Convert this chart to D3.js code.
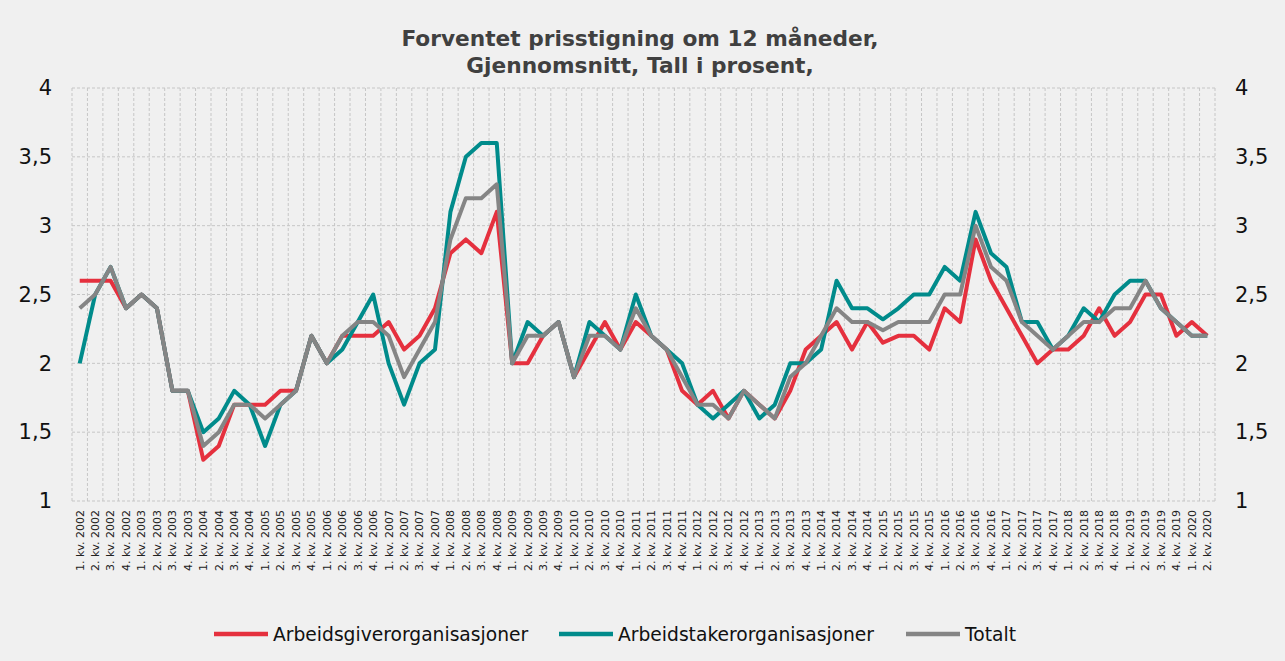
<!DOCTYPE html>
<html>
<head>
<meta charset="utf-8">
<script src="https://cdn.jsdelivr.net/npm/d3@7"></script>
<style>
  body { margin: 0; background: #f0f0f0; }
  svg { display: block; }
</style>
</head>
<body>
<div id="chart"></div>
<script>
var years = d3.range(2002, 2021);
var quarters = [];
years.forEach(function(y) {
  [1, 2, 3, 4].forEach(function(q) {
    if (y < 2020 || q <= 2) quarters.push(q + ". kv. " + y);
  });
});

var arbeidsgiver = [2.6, 2.6, 2.6, 2.4, 2.5, 2.4, 1.8, 1.8, 1.3, 1.4, 1.7, 1.7, 1.7, 1.8, 1.8, 2.2, 2.0, 2.2, 2.2, 2.2,
  2.3, 2.1, 2.2, 2.4, 2.8, 2.9, 2.8, 3.1, 2.0, 2.0, 2.2, 2.3, 1.9, 2.1, 2.3, 2.1, 2.3, 2.2, 2.1, 1.8,
  1.7, 1.8, 1.6, 1.8, 1.7, 1.6, 1.8, 2.1, 2.2, 2.3, 2.1, 2.3, 2.15, 2.2, 2.2, 2.1, 2.4, 2.3, 2.9, 2.6,
  2.4, 2.2, 2.0, 2.1, 2.1, 2.2, 2.4, 2.2, 2.3, 2.5, 2.5, 2.2, 2.3, 2.2];

var arbeidstaker = [2.0, 2.5, 2.7, 2.4, 2.5, 2.4, 1.8, 1.8, 1.5, 1.6, 1.8, 1.7, 1.4, 1.7, 1.8, 2.2, 2.0, 2.1, 2.3, 2.5,
  2.0, 1.7, 2.0, 2.1, 3.1, 3.5, 3.6, 3.6, 2.0, 2.3, 2.2, 2.3, 1.9, 2.3, 2.2, 2.1, 2.5, 2.2, 2.1, 2.0,
  1.7, 1.6, 1.7, 1.8, 1.6, 1.7, 2.0, 2.0, 2.1, 2.6, 2.4, 2.4, 2.32, 2.4, 2.5, 2.5, 2.7, 2.6, 3.1, 2.8,
  2.7, 2.3, 2.3, 2.1, 2.2, 2.4, 2.3, 2.5, 2.6, 2.6, 2.4, 2.3, 2.2, 2.2];

var totalt = [2.4, 2.5, 2.7, 2.4, 2.5, 2.4, 1.8, 1.8, 1.4, 1.5, 1.7, 1.7, 1.6, 1.7, 1.8, 2.2, 2.0, 2.2, 2.3, 2.3,
  2.2, 1.9, 2.1, 2.3, 2.9, 3.2, 3.2, 3.3, 2.0, 2.2, 2.2, 2.3, 1.9, 2.2, 2.2, 2.1, 2.4, 2.2, 2.1, 1.9,
  1.7, 1.7, 1.6, 1.8, 1.7, 1.6, 1.9, 2.0, 2.2, 2.4, 2.3, 2.3, 2.24, 2.3, 2.3, 2.3, 2.5, 2.5, 3.0, 2.7,
  2.6, 2.3, 2.2, 2.1, 2.2, 2.3, 2.3, 2.4, 2.4, 2.6, 2.4, 2.3, 2.2, 2.2];

var yTicks = [1, 1.5, 2, 2.5, 3, 3.5, 4];
var titleLines = ["Forventet prisstigning om 12 måneder,", "Gjennomsnitt, Tall i prosent,"];

var series = [
  {name: "Arbeidsgiverorganisasjoner", values: arbeidsgiver, color: "#e5303e"},
  {name: "Arbeidstakerorganisasjoner", values: arbeidstaker, color: "#008b8b"},
  {name: "Totalt", values: totalt, color: "#858585"}
];

var W = 1285, H = 661;
var margin = {left: 72, right: 1215, top: 88, bottom: 501};

var svg = d3.select("#chart").append("svg")
    .attr("width", W)
    .attr("height", H);

svg.append("rect").attr("width", W).attr("height", H).attr("fill", "#f0f0f0");

var x = d3.scaleBand().domain(quarters).range([margin.left, margin.right]).padding(0),
    y = d3.scaleLinear().domain([1, 4]).range([margin.bottom, margin.top]);

var fmt = function(d) { return String(d).replace(".", ","); };

// grid
var grid = svg.append("g").attr("class", "grid");
grid.selectAll(".hgrid")
  .data(yTicks)
  .enter().append("line")
    .attr("x1", margin.left).attr("x2", margin.right)
    .attr("y1", function(d) { return y(d); })
    .attr("y2", function(d) { return y(d); })
    .attr("stroke", "#c6c6c6")
    .attr("stroke-dasharray", "3,2");

var vx = quarters.map(function(q) { return x(q); }).concat([margin.right]);
grid.selectAll(".vgrid")
  .data(vx)
  .enter().append("line")
    .attr("x1", function(d) { return d; }).attr("x2", function(d) { return d; })
    .attr("y1", margin.top).attr("y2", margin.bottom)
    .attr("stroke", "#c6c6c6")
    .attr("stroke-dasharray", "3,2");

// y axes (both sides)
var yl = svg.append("g")
  .attr("transform", "translate(" + (margin.left - 20) + ",0)")
  .call(d3.axisLeft(y).tickValues(yTicks).tickFormat(fmt).tickSize(0).tickPadding(0));
var yr = svg.append("g")
  .attr("transform", "translate(" + (margin.right + 20) + ",0)")
  .call(d3.axisRight(y).tickValues(yTicks).tickFormat(fmt).tickSize(0).tickPadding(0));
[yl, yr].forEach(function(a) {
  a.select(".domain").remove();
  a.selectAll("text")
    .attr("font-family", "'DejaVu Sans', Verdana, sans-serif")
    .attr("font-size", 21)
    .attr("fill", "#111");
});

// x axis
var xa = svg.append("g")
  .attr("transform", "translate(0," + margin.bottom + ")")
  .call(d3.axisBottom(x).tickSize(0).tickPadding(0));
xa.select(".domain").remove();
xa.selectAll("text")
  .attr("font-family", "'DejaVu Sans', Verdana, sans-serif")
  .attr("font-size", 11)
  .attr("fill", "#222")
  .style("text-anchor", "end")
  .attr("transform", "rotate(-90)")
  .attr("x", -9)
  .attr("y", 0)
  .attr("dy", "0.35em");

// lines
var line = d3.line()
  .x(function(d, i) { return x(quarters[i]) + x.bandwidth() / 2; })
  .y(function(d) { return y(d); });

svg.selectAll(".series")
  .data(series)
  .enter().append("path")
    .attr("class", "series")
    .attr("fill", "none")
    .attr("stroke", function(d) { return d.color; })
    .attr("stroke-width", 4)
    .attr("stroke-linejoin", "round")
    .attr("d", function(d) { return line(d.values); });

// title
svg.append("text")
  .attr("x", 640)
  .attr("y", 46)
  .attr("text-anchor", "middle")
  .attr("font-family", "'DejaVu Sans', Verdana, sans-serif")
  .attr("font-weight", "bold")
  .attr("font-size", 21.7)
  .attr("fill", "#404040")
  .selectAll("tspan")
  .data(titleLines)
  .enter().append("tspan")
    .attr("x", 640)
    .attr("dy", function(d, i) { return i ? 27 : 0; })
    .text(function(d) { return d; });

// legend
var legendX = [214, 559, 906];
var lg = svg.selectAll(".legend")
  .data(series)
  .enter().append("g")
    .attr("class", "legend")
    .attr("transform", function(d, i) { return "translate(" + legendX[i] + ",634)"; });
lg.append("line")
  .attr("x1", 0).attr("x2", 54)
  .attr("stroke", function(d) { return d.color; })
  .attr("stroke-width", 4.5);
lg.append("text")
  .attr("x", 59)
  .attr("dy", "0.36em")
  .attr("font-family", "'DejaVu Sans', Verdana, sans-serif")
  .attr("font-size", 18.7)
  .attr("fill", "#111")
  .text(function(d) { return d.name; });
</script>
</body>
</html>
